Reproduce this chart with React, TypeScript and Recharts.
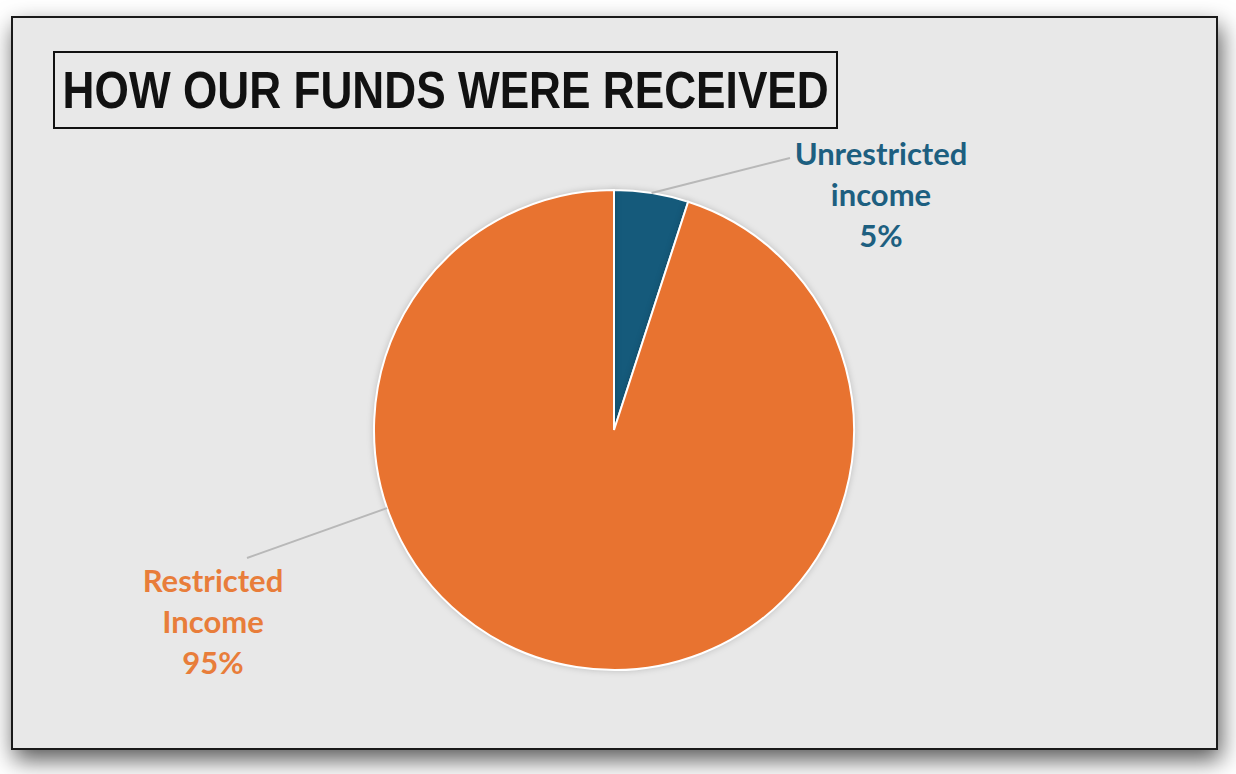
import { PieChart, Pie, Cell } from "recharts";

const categories = ["Unrestricted\nincome", "Restricted\nIncome"];
const shares = [5, 95];
const sliceColors = ["#155A7B", "#E87330"];
const labelColors = ["#1D5F80", "#E87D3A"];

const data = categories.map((name, i) => ({ name, value: shares[i] }));

// where the (hand placed) labels sit, relative to the pie centre
const labelSpots = [
  { dx: 267, dy: -265, lineAngle: null as number | null, lineEnd: [176, -272] },
  { dx: -401, dy: 162, lineAngle: 199, lineEnd: [-367, 128] },
];

const RADIAN = Math.PI / 180;

function renderLabel(props: any) {
  const { cx, cy, outerRadius, midAngle, index, percent, name } = props;
  const spot = labelSpots[index];
  const a = (spot.lineAngle ?? midAngle) * RADIAN;
  const x1 = cx + outerRadius * Math.cos(a);
  const y1 = cy - outerRadius * Math.sin(a);
  const x2 = cx + spot.lineEnd[0];
  const y2 = cy + spot.lineEnd[1];
  const lines = [...String(name).split("\n"), `${Math.round(percent * 100)}%`];
  return (
    <g>
      <line x1={x1} y1={y1} x2={x2} y2={y2} stroke="#b8b8b8" strokeWidth={2} />
      <text
        x={cx + spot.dx}
        y={cy + spot.dy}
        textAnchor="middle"
        fill={labelColors[index]}
        fontFamily="Lato, 'DejaVu Sans', sans-serif"
        fontWeight={700}
        fontSize={31}
      >
        {lines.map((t, i) => (
          <tspan key={i} x={cx + spot.dx} dy={i === 0 ? 0 : 41}>
            {t}
          </tspan>
        ))}
      </text>
    </g>
  );
}

export default function App() {
  return (
    <div
      style={{
        position: "absolute",
        left: 0,
        top: 0,
        width: 1236,
        height: 774,
        background: "#ffffff",
        overflow: "hidden",
      }}
    >
      <style>{`.recharts-pie-sector { filter: drop-shadow(0 0 3px rgba(0,0,0,0.18)); }`}</style>
      <div
        style={{
          position: "absolute",
          left: 11,
          top: 16,
          width: 1203,
          height: 730,
          background: "#e8e8e8",
          border: "2px solid #1a1a1a",
          boxShadow: "3px 10px 22px rgba(0,0,0,0.65)",
        }}
      />
      <div
        style={{
          position: "absolute",
          left: 53,
          top: 51,
          width: 781,
          height: 74,
          border: "2px solid #111",
          display: "flex",
          alignItems: "center",
          justifyContent: "center",
          overflow: "hidden",
        }}
      >
        <span
          style={{
            display: "inline-block",
            whiteSpace: "nowrap",
            fontFamily: "'Liberation Sans', Arial, sans-serif",
            fontWeight: 700,
            fontSize: 52,
            color: "#111",
            transform: "scaleX(0.85)",
            transformOrigin: "center",
          }}
        >
          HOW OUR FUNDS WERE RECEIVED
        </span>
      </div>
      <div style={{ position: "absolute", left: 0, top: 0 }}>
        <PieChart width={1236} height={774}>
          <Pie
            data={data}
            dataKey="value"
            nameKey="name"
            cx={609}
            cy={425}
            outerRadius={240}
            startAngle={90}
            endAngle={-270}
            stroke="#ffffff"
            strokeWidth={2}
            label={renderLabel}
            labelLine={false}
            isAnimationActive={false}
          >
            {data.map((d, i) => (
              <Cell key={d.name} fill={sliceColors[i]} />
            ))}
          </Pie>
        </PieChart>
      </div>
    </div>
  );
}
